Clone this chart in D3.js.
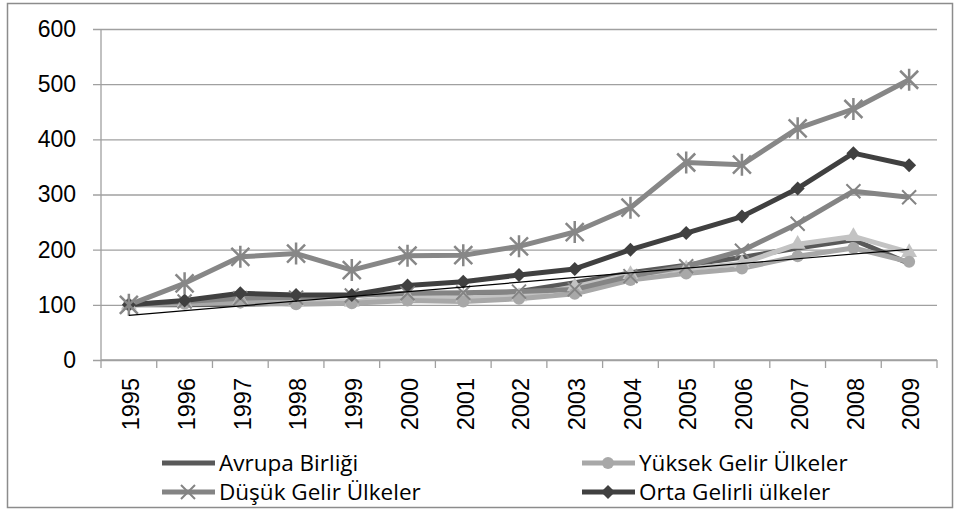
<!DOCTYPE html>
<html>
<head>
<meta charset="utf-8">
<script src="https://cdn.jsdelivr.net/npm/d3@7"></script>
<style>
  body { margin: 0; background: #fff; }
  svg { display: block; }
  .tick text { fill: #000; }
</style>
</head>
<body>
<svg id="chart" width="960" height="511"></svg>
<script>
const years = ['1995', '1996', '1997', '1998', '1999', '2000', '2001', '2002', '2003', '2004', '2005', '2006', '2007', '2008', '2009'];
const yTicks = [0, 100, 200, 300, 400, 500, 600];

// series values (index, 1995 = 100)
const avrupaBirligi = [100, 100, 101, 103, 105, 112, 116, 124, 140, 158, 172, 186, 203, 218, 175];
const yuksekGelir = [100, 102, 104, 101, 103, 108, 106, 111, 120, 145, 157, 166, 188, 203, 178];
const ucuncuSeri = [100, 104, 110, 106, 105, 114, 113, 115, 133, 155, 165, 175, 210, 224, 195];
const dusukGelir = [100, 106, 112, 113, 117, 121, 122, 124, 128, 152, 170, 198, 247, 306, 295];
const ortaGelirli = [100, 108, 121, 118, 118, 135, 142, 154, 165, 200, 230, 260, 311, 375, 353];
const besinciSeri = [100, 139, 187, 193, 163, 189, 190, 206, 232, 276, 358, 354, 420, 455, 508];

const seriesNames = ['Avrupa Birliği', 'Yüksek Gelir Ülkeler', 'Seri 6', 'Düşük Gelir Ülkeler', 'Orta Gelirli ülkeler', 'Seri 5'];
const legendNames = ['Avrupa Birliği', 'Yüksek Gelir Ülkeler', 'Düşük Gelir Ülkeler', 'Orta Gelirli ülkeler'];

const series = [
    { name: seriesNames[0], values: avrupaBirligi, color: '#595959', marker: 'none' },
    { name: seriesNames[2], values: ucuncuSeri, color: '#c3c3c3', marker: 'triangle' },
    { name: seriesNames[1], values: yuksekGelir, color: '#a8a8a8', marker: 'circle' },
    { name: seriesNames[3], values: dusukGelir, color: '#848484', marker: 'x' },
    { name: seriesNames[4], values: ortaGelirli, color: '#404040', marker: 'diamond' },
    { name: seriesNames[5], values: besinciSeri, color: '#878787', marker: 'star' }
];

const svg = d3.select('#chart');
const margin = { left: 101, right: 937, top: 29, bottom: 360 };

// outer frame
svg.append('rect')
.attr('x', 7.5).attr('y', 3.5)
.attr('width', 945).attr('height', 504)
.attr('fill', 'none')
.attr('stroke', '#8c8c8c')
.attr('stroke-width', 1.5);

const x = d3.scaleBand().domain(years).range([ margin.left, margin.right ]);
const y = d3.scaleLinear().domain([ 0, 600 ]).range([ margin.bottom, margin.top ]);
const cx = d => x(d) + x.bandwidth() / 2;

// gridlines + y axis labels
const yAxis = d3.axisLeft(y).tickValues(yTicks).tickSize(-(margin.right - margin.left)).tickSizeOuter(0).tickPadding(25);
const gy = svg.append('g').attr('transform', 'translate(' + margin.left + ',0)').call(yAxis);
gy.select('.domain').remove();
gy.selectAll('.tick line').attr('stroke', '#a0a0a0').attr('stroke-width', 1.3).attr('x1', -8);
gy.selectAll('.tick text')
.style('font-family', '"Liberation Sans", Arial, sans-serif')
.style('font-size', '23px');

svg.append('line')
.attr('x1', margin.left).attr('x2', margin.left)
.attr('y1', margin.top).attr('y2', margin.bottom)
.attr('stroke', '#a0a0a0').attr('stroke-width', 1.3);

// x axis: ticks between categories
const gx = svg.append('g').attr('transform', 'translate(0,' + margin.bottom + ')');
gx.append('line')
.attr('x1', margin.left).attr('x2', margin.right)
.attr('stroke', '#a0a0a0').attr('stroke-width', 1.3);
gx.selectAll('line.tk')
.data(years.concat(['end']))
.enter()
.append('line')
.attr('class', 'tk')
.attr('x1', (d, i) => margin.left + i * x.step())
.attr('x2', (d, i) => margin.left + i * x.step())
.attr('y1', 0).attr('y2', 8)
.attr('stroke', '#a0a0a0').attr('stroke-width', 1.3);
gx.selectAll('text')
.data(years)
.enter()
.append('text')
.attr('transform', d => 'translate(' + (cx(d) + 2) + ',18) rotate(-90)')
.attr('text-anchor', 'end')
.attr('dy', '0.35em')
.style('font-family', '"Liberation Sans", Arial, sans-serif')
.style('font-size', '23.5px')
.text(d => d);

// lines
const line = d3.line().x((d, i) => cx(years[i])).y(d => y(d));

const plot = svg.append('g');
series.forEach(s => {
    plot.append('path')
    .datum(s.values)
    .attr('fill', 'none')
    .attr('stroke', s.color)
    .attr('stroke-width', 5)
    .attr('stroke-linejoin', 'round')
    .attr('d', line);
});

function drawMarker(g, type, color, px, py) {
    if (type === 'circle') {
        g.append('circle').attr('cx', px).attr('cy', py).attr('r', 6).attr('fill', color);
    } else if (type === 'triangle') {
        g.append('path').attr('d', d3.symbol(d3.symbolTriangle, 110)()).attr('transform', 'translate(' + px + ',' + py + ')').attr('fill', color);
    } else if (type === 'diamond') {
        g.append('path').attr('d', 'M0,-7L7,0L0,7L-7,0Z').attr('transform', 'translate(' + px + ',' + py + ')').attr('fill', color);
    } else if (type === 'x') {
        g.append('path').attr('d', 'M-7,-7L7,7M-7,7L7,-7').attr('transform', 'translate(' + px + ',' + py + ')')
        .attr('stroke', color).attr('stroke-width', 2).attr('fill', 'none');
    } else if (type === 'star') {
        g.append('path').attr('d', 'M-9,-9L9,9M-9,9L9,-9M0,-11L0,11').attr('transform', 'translate(' + px + ',' + py + ')')
        .attr('stroke', color).attr('stroke-width', 2.5).attr('fill', 'none');
    }
}

series.forEach(s => {
    if (s.marker === 'none') return;
    const g = plot.append('g');
    s.values.forEach((v, i) => drawMarker(g, s.marker, s.color, cx(years[i]), y(v)));
});

// linear trendline for Avrupa Birliği
const idx = avrupaBirligi.map((v, i) => i);
const mx = d3.mean(idx), my = d3.mean(avrupaBirligi);
const slope = d3.sum(idx, i => (i - mx) * (avrupaBirligi[i] - my)) / d3.sum(idx, i => (i - mx) * (i - mx));
const icpt = my - slope * mx;
plot.append('line')
.attr('x1', cx(years[0])).attr('y1', y(icpt))
.attr('x2', cx(years[years.length - 1])).attr('y2', y(icpt + slope * (years.length - 1)))
.attr('stroke', '#000').attr('stroke-width', 1.2);

// legend
const legendSeries = legendNames.map(n => series.find(s => s.name === n));
const legendPos = [ [ 162, 463 ], [ 582, 463 ], [ 162, 492 ], [ 582, 492 ] ];
const lg = svg.append('g');
legendSeries.forEach((s, i) => {
    const [ lx, ly ] = legendPos[i];
    lg.append('line')
    .attr('x1', lx).attr('x2', lx + 53)
    .attr('y1', ly).attr('y2', ly)
    .attr('stroke', s.color).attr('stroke-width', 5);
    drawMarker(lg, s.marker, s.color, lx + 26, ly);
    lg.append('text')
    .attr('x', lx + 57).attr('y', ly)
    .attr('dy', '0.35em')
    .style('font-family', '"Open Sans", sans-serif')
    .style('font-size', '22.5px')
    .style('fill', '#000')
    .text(s.name);
});
</script>
</body>
</html>
